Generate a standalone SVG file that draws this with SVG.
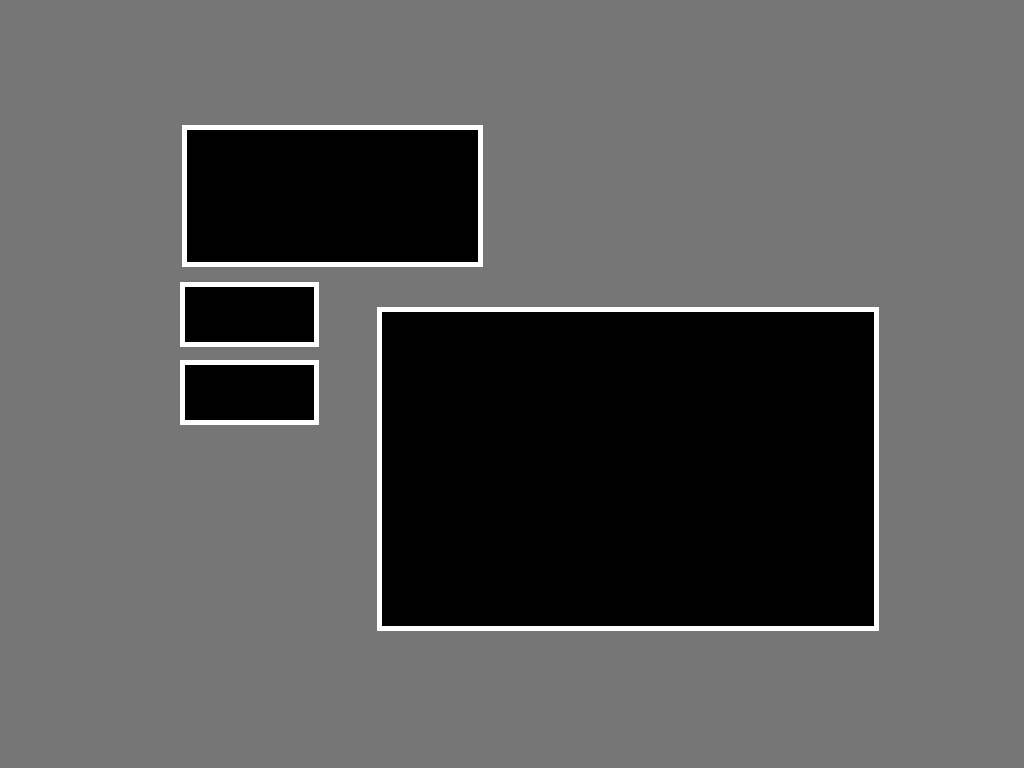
<svg xmlns="http://www.w3.org/2000/svg" width="1024" height="768" viewBox="0 0 1024 768">
<style>
.box{fill:#000000;stroke:#ffffff;stroke-width:5}
</style>
<rect x="0" y="0" width="1024" height="768" fill="#767676"/>
<g id="node-top"><rect class="box" x="184.5" y="127.5" width="296" height="137"/></g>
<g id="node-small1"><rect class="box" x="182.5" y="284.5" width="134" height="60"/></g>
<g id="node-small2"><rect class="box" x="182.5" y="362.5" width="134" height="60"/></g>
<g id="node-big"><rect class="box" x="379.5" y="309.5" width="497" height="319"/></g>
<g id="connectors"></g>
</svg>
